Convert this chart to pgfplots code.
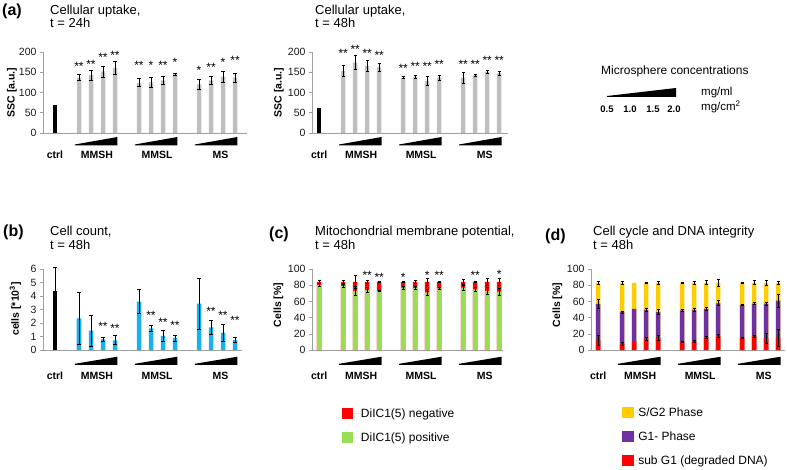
\documentclass[border=0pt]{standalone}
\usepackage{fontspec}
\setmainfont{Liberation Sans}
\usepackage{pgfplots}
\usepackage{pgfplotstable}
\pgfplotsset{compat=1.18}

\definecolor{barg}{HTML}{BFBFBF}
\definecolor{cblue}{HTML}{1AB0EE}
\definecolor{cgreen}{HTML}{99DD55}
\definecolor{cyel}{HTML}{FFCC00}
\definecolor{cpur}{HTML}{7030A0}
\definecolor{cred}{HTML}{FF0000}
\definecolor{axg}{HTML}{A0A0A0}

\newcommand\ttl{\fontsize{13}{15}\selectfont}
\newcommand\pnl{\fontsize{16}{18}\selectfont\bfseries}
\newcommand\catf{\fontsize{10.5}{12}\selectfont\bfseries}
\newcommand\tkf{\fontsize{10.5}{12}\selectfont}
\newcommand\stf{\fontsize{12}{14}\selectfont}
\newcommand\lgf{\fontsize{12}{14}\selectfont}
\newcommand\swimg[2]{\fill[#1] (0pt,-5.75pt) rectangle (11.5pt,5.75pt); \path (0pt,0pt) -- (#2,0pt);}

\pgfplotsset{
  panel/.style={scale only axis, height=81pt, anchor=south west, axis lines*=left,
    axis line style={draw=axg, line width=0.8pt}, xtick=\empty, ymin=0, clip=false,
    enlargelimits=false,
    tick align=outside, major tick length=3pt, ytick style={draw=axg, line width=0.6pt},
    yticklabel style={font=\tkf, text=black!90},
    /pgf/number format/assume math mode=true},
  bars/.style={ybar, bar shift=0pt, bar width=4.5pt, fill=#1, draw=none},
  eb/.style={forget plot, ybar, bar shift=0pt, bar width=4.5pt, draw=none, fill=none,
    error bars/.cd, y dir=both, y explicit, error mark=-,
    error bar style={draw=black, line width=0.7pt},
    error mark options={rotate=90, draw=black, line width=0.7pt, mark size=1.6pt}},
  stars/.style={forget plot, ybar, bar shift=0pt, bar width=4.5pt, draw=none, fill=none,
    nodes near coords, point meta=explicit symbolic,
    nodes near coords style={font=\stf, text=black, inner sep=0pt, anchor=south, yshift=-6.9pt}},
}

\newcommand\wdg[4]{\fill[black] ([yshift=-#4]axis cs:#1,0) -- ([yshift=-#4]axis cs:#2,0) -- ([yshift=-#3]axis cs:#2,0) -- ([yshift=-#4+1pt]axis cs:#1,0) -- cycle;}
\newcommand\cats[3]{%
  \wdg{1.65}{5.2}{#1}{#2}\wdg{6.65}{10.2}{#1}{#2}\wdg{11.65}{15.2}{#1}{#2}%
  \node[font=\catf, inner sep=0pt] at ([yshift=-#3]axis cs:0,0) {ctrl};
  \node[font=\catf, inner sep=0pt] at ([yshift=-#3]axis cs:3.5,0) {MMSH};
  \node[font=\catf, inner sep=0pt] at ([yshift=-#3]axis cs:8.5,0) {MMSL};
  \node[font=\catf, inner sep=0pt] at ([yshift=-#3]axis cs:13.8,0) {MS};}

% (a) 24h
\pgfplotstableread{
x y e
2 137 7.5
3 143 12
4 152 13.5
5 161 15
7 124 10
8 125 12.5
9 130 9
10 145 3
12 120 12
13 130 9
14 139 14
15 137 11.5
}\tAone
\pgfplotstableread{
x y s
2 170 **
3 176 **
4 193 **
5 199 **
7 174 **
8 174 *
9 174 **
10 180 *
12 160 *
13 168 **
14 180 *
15 186 **
}\sAone
% (a) 48h
\pgfplotstableread{
x y e
2 153 13
3 174 17
4 166 13
5 162 10
7 137 2.5
8 139 4
9 129 12
10 137 6.5
12 137 13.5
13 142 3
14 151 4.5
15 147 5.5
}\tAtwo
\pgfplotstableread{
x y s
2 202 **
3 213 **
4 203 **
5 199 **
7 165 **
8 170 **
9 170 **
10 176 **
12 176 **
13 176 **
14 186 **
15 186 **
}\sAtwo
% (b)
\pgfplotstableread{
x y e
2 2.35 1.9
3 1.43 1.15
4 0.79 0.17
5 0.72 0.33
7 3.58 0.88
8 1.6 0.2
9 1.04 0.41
10 0.89 0.23
12 3.43 1.9
13 1.68 0.5
14 1.26 0.64
15 0.74 0.17
}\tB
\pgfplotstableread{
x y s
4 1.93 **
5 1.78 **
8 2.79 **
9 2.27 **
10 2.05 **
13 3.04 **
14 2.79 **
15 2.35 **
}\sB
% (c)
\pgfplotstableread{
x g ge r re
0 80.5 2 84 2
2 79 2 84 1.5
3 73 6 84 8
4 74 3 84 2
5 73 1 84 1
7 77 2 84 1
8 76.5 2 84 2
9 71 4 84 4
10 76 1 84 1
12 77 3 84 3
13 75 2 84 1
14 73 4 84 4
15 72 4 84 4
}\tC
\pgfplotstableread{
x y s
4 94.7 **
5 93.4 **
7 93 *
9 94.7 *
10 94.7 **
13 94.7 **
15 96.7 *
}\sC
% (d)
\pgfplotstableread{
x r re p pe t te
0 11.8 6 57 6 83 2
2 7.3 2 46.7 1 83 1.5
3 10.6 0 50.8 0 83 0
4 14.2 2 49.6 1.5 83 0.5
5 15.4 3 46.7 3 83 1.5
7 10.2 1 48.8 1 83 1
8 11 1.5 49.6 1.5 83 2
9 15.4 1.5 50.8 2 83 2.5
10 17.5 1.5 57.7 3 83 4
12 15 1 55.7 1 83 1
13 17 1.5 57.3 1.5 83 2.5
14 14.2 6 57.3 2 83 3.5
15 15 10 61 8 83 1.5
}\tD
\pgfplotstableread{
x r re p pe t te
0 11.8 6 57 6 83 2
2 7.3 2 46.7 1 83 1.5
4 14.2 2 49.6 1.5 83 0.5
5 15.4 3 46.7 3 83 1.5
7 10.2 1 48.8 1 83 1
8 11 1.5 49.6 1.5 83 2
9 15.4 1.5 50.8 2 83 2.5
10 17.5 1.5 57.7 3 83 4
12 15 1 55.7 1 83 1
13 17 1.5 57.3 1.5 83 2.5
14 14.2 6 57.3 2 83 3.5
15 15 10 61 8 83 1.5
}\tDe

\begin{document}
\begin{tikzpicture}
\path[use as bounding box] (0pt,0pt) rectangle (787pt,469pt);

% ---------- (a) 24h
\begin{axis}[panel, at={(43pt,336pt)}, width=204pt, xmin=-1, xmax=16, ymax=200, ytick={0,50,100,150,200}]
\addplot[bars=black] coordinates {(0,69)};
\addplot[bars=barg] table[x=x,y=y] {\tAone};
\addplot[eb] table[x=x,y=y,y error=e] {\tAone};
\addplot[stars] table[x=x,y=y,meta=s] {\sAone};
\cats{4pt}{12.5pt}{21.5pt}
\end{axis}

% ---------- (a) 48h
\begin{axis}[panel, at={(312pt,336pt)}, width=195.6pt, xmin=-0.6, xmax=15.7, ymax=200, ytick={0,50,100,150,200}]
\addplot[bars=black] coordinates {(0,61)};
\addplot[bars=barg] table[x=x,y=y] {\tAtwo};
\addplot[eb] table[x=x,y=y,y error=e] {\tAtwo};
\addplot[stars] table[x=x,y=y,meta=s] {\sAtwo};
\cats{4pt}{12.5pt}{21.5pt}
\end{axis}

% ---------- (b)
\begin{axis}[panel, at={(43pt,119pt)}, width=199.2pt, xmin=-1, xmax=15.6, ymax=6, ytick={0,1,2,3,4,5,6}]
\addplot[bars=black] coordinates {(0,4.4)};
\addplot[eb] coordinates {(0,4.4) +- (0,1.75)};
\addplot[bars=cblue] table[x=x,y=y] {\tB};
\addplot[eb] table[x=x,y=y,y error=e] {\tB};
\addplot[stars] table[x=x,y=y,meta=s] {\sB};
\cats{6.7pt}{14.8pt}{26pt}
\end{axis}

% ---------- (c)
\begin{axis}[panel, at={(312pt,119pt)}, width=190.8pt, xmin=-0.6, xmax=15.3, ymax=100, ytick={0,20,40,60,80,100},
  legend style={at={(axis description cs:0.157,-0.712)}, anchor=north west, draw=none, fill=none,
    inner sep=0pt, outer sep=0pt, row sep=12.5pt, font=\lgf, nodes={inner sep=0pt}},
  legend cell align=left]
\addplot[bars=cred, legend image code/.code={\swimg{cred}{19pt}}] table[x=x,y=r] {\tC};
\addplot[bars=cgreen, legend image code/.code={\swimg{cgreen}{19pt}}] table[x=x,y=g] {\tC};
\addplot[eb] table[x=x,y=r,y error=re] {\tC};
\addplot[eb] table[x=x,y=g,y error=ge] {\tC};
\addplot[stars] table[x=x,y=y,meta=s] {\sC};
\legend{DiIC1(5) negative, DiIC1(5) positive}
\cats{6.7pt}{14.8pt}{26pt}
\end{axis}

% ---------- (d)
\begin{axis}[panel, at={(591pt,119pt)}, width=194.4pt, xmin=-0.6, xmax=15.6, ymax=100, ytick={0,20,40,60,80,100},
  legend style={at={(axis description cs:0.161,-0.70)}, anchor=north west, draw=none, fill=none,
    inner sep=0pt, outer sep=0pt, row sep=12.5pt, font=\lgf, nodes={inner sep=0pt}},
  legend cell align=left]
\addplot[bars=cyel, legend image code/.code={\swimg{cyel}{16pt}}] table[x=x,y=t] {\tD};
\addplot[bars=cpur, legend image code/.code={\swimg{cpur}{16pt}}] table[x=x,y=p] {\tD};
\addplot[bars=cred, legend image code/.code={\swimg{cred}{16pt}}] table[x=x,y=r] {\tD};
\addplot[eb] table[x=x,y=t,y error=te] {\tDe};
\addplot[eb] table[x=x,y=p,y error=pe] {\tDe};
\addplot[eb] table[x=x,y=r,y error=re] {\tDe};
\legend{S/G2 Phase, G1- Phase, sub G1 (degraded DNA)}
\cats{6.7pt}{14.8pt}{26pt}
\end{axis}

% ---------- panel letters
\node[font=\pnl, anchor=west, inner sep=0pt] at (2pt,458pt) {(a)};
\node[font=\pnl, anchor=west, inner sep=0pt] at (3pt,236.5pt) {(b)};
\node[font=\pnl, anchor=west, inner sep=0pt] at (269pt,234.5pt) {(c)};
\node[font=\pnl, anchor=west, inner sep=0pt] at (545pt,233pt) {(d)};

% ---------- titles
\node[font=\ttl, anchor=base west, inner sep=0pt] at (50pt,454.5pt) {Cellular uptake,};
\node[font=\ttl, anchor=base west, inner sep=0pt] at (50pt,441pt) {t = 24h};
\node[font=\ttl, anchor=base west, inner sep=0pt] at (315pt,454.5pt) {Cellular uptake,};
\node[font=\ttl, anchor=base west, inner sep=0pt] at (315pt,441pt) {t = 48h};
\node[font=\ttl, anchor=base west, inner sep=0pt] at (50pt,233pt) {Cell count,};
\node[font=\ttl, anchor=base west, inner sep=0pt] at (50pt,219pt) {t = 48h};
\node[font=\ttl, anchor=base west, inner sep=0pt] at (315pt,233pt) {Mitochondrial membrane potential,};
\node[font=\ttl, anchor=base west, inner sep=0pt] at (315pt,219pt) {t = 48h};
\node[font=\ttl, anchor=base west, inner sep=0pt] at (593pt,233pt) {Cell cycle and DNA integrity};
\node[font=\ttl, anchor=base west, inner sep=0pt] at (593pt,219pt) {t = 48h};

% ---------- y labels
\node[font=\catf, rotate=90, inner sep=0pt] at (12pt,376.5pt) {SSC [a.u.]};
\node[font=\catf, rotate=90, inner sep=0pt] at (279pt,376.5pt) {SSC [a.u.]};
\node[font=\catf, rotate=90, inner sep=0pt] at (15.5pt,160pt) {cells [*10\textsuperscript{3}]};
\node[font=\catf, rotate=90, inner sep=0pt] at (278.5pt,164pt) {Cells [\%]};
\node[font=\catf, rotate=90, inner sep=0pt] at (557.5pt,164pt) {Cells [\%]};

% ---------- concentration key
\node[font=\lgf, anchor=west, inner sep=0pt] at (601pt,398pt) {Microsphere concentrations};
\fill[black] (607pt,372pt) -- (676pt,372pt) -- (676pt,381pt) -- (607pt,373pt) -- cycle;
\node[font=\fontsize{9.5}{11}\selectfont\bfseries, inner sep=0pt] at (607pt,360pt) {0.5};
\node[font=\fontsize{9.5}{11}\selectfont\bfseries, inner sep=0pt] at (630pt,360pt) {1.0};
\node[font=\fontsize{9.5}{11}\selectfont\bfseries, inner sep=0pt] at (653pt,360pt) {1.5};
\node[font=\fontsize{9.5}{11}\selectfont\bfseries, inner sep=0pt] at (674pt,360pt) {2.0};
\node[font=\fontsize{11.5}{13}\selectfont, anchor=west, inner sep=0pt] at (701pt,376pt) {mg/ml};
\node[font=\fontsize{11.5}{13}\selectfont, anchor=west, inner sep=0pt] at (701pt,362pt) {mg/cm\textsuperscript{2}};
\end{tikzpicture}
\end{document}
